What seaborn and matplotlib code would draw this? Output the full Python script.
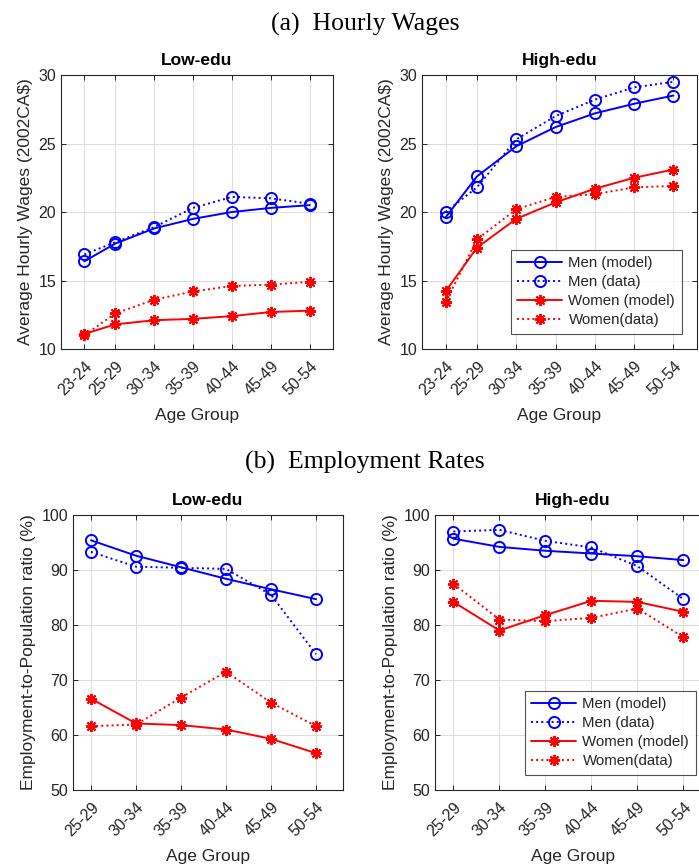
import numpy as np
import pandas as pd
import seaborn as sns
import matplotlib.pyplot as plt

# age groups (wages panels start at 23-24, employment panels at 25-29)
wage_groups = ["23-24", "25-29", "30-34", "35-39", "40-44", "45-49", "50-54"]
wage_x = [23, 27, 32, 37, 42, 47, 52]
emp_groups = ["25-29", "30-34", "35-39", "40-44", "45-49", "50-54"]
emp_x = [27, 32, 37, 42, 47, 52]

# (a) hourly wages, low-edu
low_wage_men_model = [16.4, 17.7, 18.8, 19.5, 20.0, 20.3, 20.5]
low_wage_men_data = [16.9, 17.8, 18.9, 20.3, 21.1, 21.0, 20.6]
low_wage_women_model = [11.1, 11.8, 12.1, 12.2, 12.4, 12.7, 12.8]
low_wage_women_data = [11.0, 12.6, 13.6, 14.2, 14.6, 14.7, 14.9]

# (a) hourly wages, high-edu
high_wage_men_model = [19.6, 22.6, 24.8, 26.2, 27.2, 27.9, 28.5]
high_wage_men_data = [20.0, 21.8, 25.3, 27.0, 28.2, 29.1, 29.5]
high_wage_women_model = [14.2, 17.4, 19.5, 20.7, 21.7, 22.5, 23.1]
high_wage_women_data = [13.4, 18.0, 20.2, 21.1, 21.3, 21.8, 21.9]

# (b) employment rates, low-edu
low_emp_men_model = [95.4, 92.6, 90.5, 88.4, 86.5, 84.7]
low_emp_men_data = [93.3, 90.6, 90.4, 90.2, 85.5, 74.7]
low_emp_women_model = [66.6, 62.1, 61.8, 61.0, 59.3, 56.7]
low_emp_women_data = [61.6, 61.9, 66.8, 71.5, 65.9, 61.6]

# (b) employment rates, high-edu
high_emp_men_model = [95.7, 94.2, 93.5, 93.0, 92.5, 91.8]
high_emp_men_data = [97.0, 97.3, 95.3, 94.1, 90.7, 84.7]
high_emp_women_model = [84.2, 79.0, 81.8, 84.4, 84.2, 82.4]
high_emp_women_data = [87.5, 81.0, 80.7, 81.3, 83.0, 77.8]

labels = ["Men (model)", "Men (data)", "Women (model)", "Women(data)"]

sns.set_theme(style="white")
plt.rcParams['font.family'] = ['Liberation Sans', 'DejaVu Sans']
plt.rcParams['axes.edgecolor'] = '#262626'
plt.rcParams['xtick.color'] = '#262626'
plt.rcParams['ytick.color'] = '#262626'
plt.rcParams['axes.labelcolor'] = '#262626'

fig = plt.figure(figsize=(6.99, 8.65), dpi=100)
W, H = 699, 865


def add_ax(x0, x1, y0, y1):
    return fig.add_axes([x0 / W, 1 - y1 / H, (x1 - x0) / W, (y1 - y0) / H])


star = (8, 2, 0)


def draw_panel(ax, x, groups, series, title, ylabel, ylim, yticks, xlim, legend=False):
    styles = [("blue", "-", "o"), ("blue", ":", "o"), ("red", "-", star), ("red", ":", star)]
    for vals, (col, ls, mk), lab in zip(series, styles, labels):
        df = pd.DataFrame({"x": x, "y": vals})
        face = "none" if mk == "o" else col
        sns.lineplot(data=df, x="x", y="y", ax=ax, color=col, linestyle=ls,
                     linewidth=1.4, marker=mk, markersize=8,
                     markerfacecolor=face, markeredgecolor=col,
                     markeredgewidth=1.4, label=lab, legend=False)
    ax.set_xlim(*xlim)
    ax.set_ylim(*ylim)
    ax.set_yticks(yticks)
    ax.set_xticks(x)
    ax.set_xticklabels(groups, rotation=45, ha="right", rotation_mode="anchor")
    ax.tick_params(direction="in", length=3.5, width=0.7, labelsize=11.5,
                   top=True, right=True, bottom=True, left=True)
    ax.tick_params(axis="x", pad=7)
    ax.grid(True, color="#dcdcdc", linewidth=0.7)
    for sp in ax.spines.values():
        sp.set_linewidth(0.8)
        sp.set_color("#262626")
    ax.set_xlabel("Age Group", fontsize=12.5, labelpad=7)
    ax.set_ylabel(ylabel, fontsize=12.5)
    ax.set_title(title, fontsize=12.5, fontweight="bold", color="black", pad=7)
    if legend:
        leg = ax.legend(loc="lower right", fontsize=10.8, frameon=True, fancybox=False,
                        handlelength=3.0, borderpad=0.45, labelspacing=0.33,
                        handletextpad=0.4, borderaxespad=1.0)
        leg.get_frame().set_edgecolor("#262626")
        leg.get_frame().set_linewidth(0.8)


ax1 = add_ax(61, 333, 75, 349)
ax2 = add_ax(422, 697, 75, 349)
ax3 = add_ax(73, 343, 515, 790)
ax4 = add_ax(435, 711, 515, 790)

draw_panel(ax1, wage_x, wage_groups,
           [low_wage_men_model, low_wage_men_data, low_wage_women_model, low_wage_women_data],
           "Low-edu", "Average Hourly Wages (2002CA$)", (10, 30), [10, 15, 20, 25, 30], (20, 55))
draw_panel(ax2, wage_x, wage_groups,
           [high_wage_men_model, high_wage_men_data, high_wage_women_model, high_wage_women_data],
           "High-edu", "Average Hourly Wages (2002CA$)", (10, 30), [10, 15, 20, 25, 30], (20, 55),
           legend=True)
draw_panel(ax3, emp_x, emp_groups,
           [low_emp_men_model, low_emp_men_data, low_emp_women_model, low_emp_women_data],
           "Low-edu", "Employment-to-Population ratio (%)", (50, 100),
           [50, 60, 70, 80, 90, 100], (25, 55))
draw_panel(ax4, emp_x, emp_groups,
           [high_emp_men_model, high_emp_men_data, high_emp_women_model, high_emp_women_data],
           "High-edu", "Employment-to-Population ratio (%)", (50, 100),
           [50, 60, 70, 80, 90, 100], (25, 55), legend=True)

fig.text(365 / W, 1 - 24 / H, "(a)  Hourly Wages", ha="center", va="center",
         fontsize=18.5, family=["Liberation Serif", "DejaVu Serif"], color="black")
fig.text(365 / W, 1 - 462 / H, "(b)  Employment Rates", ha="center", va="center",
         fontsize=18.5, family=["Liberation Serif", "DejaVu Serif"], color="black")

fig.savefig("out.png", dpi=100)
